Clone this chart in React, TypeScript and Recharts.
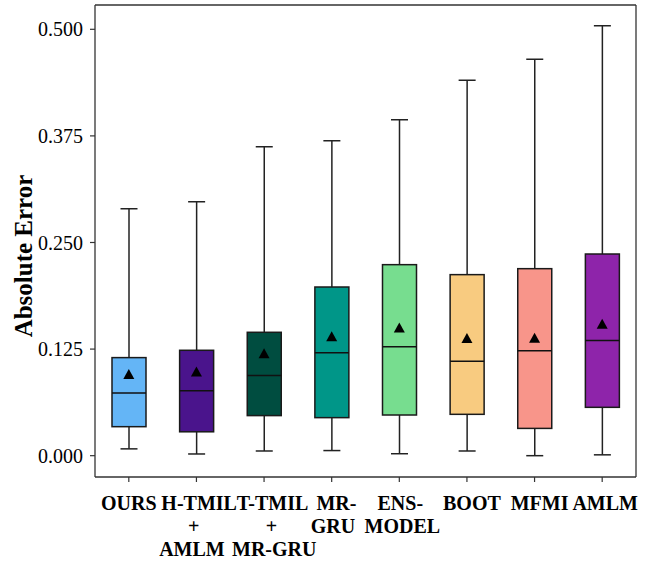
import { ComposedChart, Bar, Scatter, XAxis, YAxis, CartesianGrid } from "recharts"

const categories = ["OURS", "H-TMIL\n+\nAMLM", "T-TMIL\n+\nMR-GRU", "MR-\nGRU", "ENS-\nMODEL", "BOOT", "MFMI", "AMLM"]
const whiskerLow = [0.008, 0.002, 0.0055, 0.006, 0.0023, 0.0055, 0.0, 0.001]
const q1 = [0.034, 0.028, 0.047, 0.0446, 0.0477, 0.0485, 0.032, 0.0567]
const median = [0.0735, 0.076, 0.094, 0.1208, 0.1278, 0.1107, 0.123, 0.135]
const q3 = [0.115, 0.1236, 0.1447, 0.1978, 0.224, 0.2123, 0.2193, 0.2365]
const whiskerHigh = [0.2896, 0.2978, 0.3623, 0.3694, 0.394, 0.4402, 0.4648, 0.5042]
const mean = [0.0945, 0.0975, 0.119, 0.1388, 0.149, 0.1368, 0.137, 0.1536]
const yTicks = [0, 0.125, 0.25, 0.375, 0.5]

const boxColors = ["#64B5F6", "#4A148C", "#004D40", "#009688", "#77DD8F", "#F8CB80", "#F8958A", "#8E24AA"]
// small horizontal nudges per label line, as in the original figure
const labelShift = [[0], [2.7, -2.7, -4.5], [8.5, 7.4, 10.2], [4.7, 1.3], [1, 3], [5], [5], [3]]

const FONT = "Liberation Serif"
const Y_DOMAIN: [number, number] = [-0.025, 0.5285]

const data = categories.map((name, i) => ({
  name,
  min: whiskerLow[i],
  q1: q1[i],
  median: median[i],
  q3: q3[i],
  max: whiskerHigh[i],
  mean: mean[i],
}))

// the bar spans min..max, the rest is placed inside it on the same linear scale
const BoxShape = (props: any) => {
  const { x, y, width, height, payload, index } = props
  if (!payload || height == null) return null
  const span = payload.max - payload.min
  const py = (v: number) => y + (height * (payload.max - v)) / span
  const cx = x + width / 2
  const capHalf = width / 4
  const yq1 = py(payload.q1)
  const yq3 = py(payload.q3)
  const ymed = py(payload.median)
  return (
    <g>
      <line x1={cx} x2={cx} y1={y} y2={yq3} stroke="#222" strokeWidth={1.5} />
      <line x1={cx} x2={cx} y1={yq1} y2={y + height} stroke="#222" strokeWidth={1.5} />
      <line x1={cx - capHalf} x2={cx + capHalf} y1={y} y2={y} stroke="#222" strokeWidth={1.5} />
      <line x1={cx - capHalf} x2={cx + capHalf} y1={y + height} y2={y + height} stroke="#222" strokeWidth={1.5} />
      <rect x={x} y={yq3} width={width} height={yq1 - yq3} fill={boxColors[index]} stroke="#1a1a1a" strokeWidth={1.5} />
      <line x1={x} x2={x + width} y1={ymed} y2={ymed} stroke="#111" strokeWidth={1.5} />
    </g>
  )
}

const MeanMarker = (props: any) => {
  const { cx, cy } = props
  if (cx == null || cy == null) return null
  return <path d={`M${cx},${cy - 6} L${cx + 5.5},${cy + 4} L${cx - 5.5},${cy + 4} Z`} fill="#000" />
}

const CategoryTick = (props: any) => {
  const { x, y, payload } = props
  const lines = String(payload.value).split("\n")
  const shifts = labelShift[categories.indexOf(payload.value)] || []
  return (
    <text x={x} y={y} textAnchor="middle" fontFamily={FONT} fontSize={20} fontWeight="bold" fill="#000">
      {lines.map((line, i) => (
        <tspan key={i} x={x + (shifts[i] || 0)} dy={i === 0 ? 28 : 23}>
          {line}
        </tspan>
      ))}
    </text>
  )
}

const YLabel = (props: any) => {
  const vb = props.viewBox || {}
  const cy = vb.y + vb.height / 2 + 15
  return (
    <text
      x={23}
      y={cy}
      transform={`rotate(-90, 23, ${cy})`}
      textAnchor="middle"
      dominantBaseline="central"
      fontFamily={FONT}
      fontSize={25}
      fontWeight="bold"
      fill="#000"
    >
      Absolute Error
    </text>
  )
}

export default function App() {
  return (
    <div style={{ position: "absolute", left: 0, top: 0, width: 651, height: 563, background: "#fff" }}>
      <ComposedChart width={651} height={563} data={data} margin={{ top: 5, right: 15, left: 10, bottom: 6 }}>
        {/* top and right edges of the frame */}
        <CartesianGrid
          stroke="#333"
          strokeWidth={1.3}
          horizontalCoordinatesGenerator={({ offset }: any) => [offset.top]}
          verticalCoordinatesGenerator={({ offset }: any) => [offset.left + offset.width]}
        />
        <XAxis
          dataKey="name"
          interval={0}
          height={80}
          tick={<CategoryTick />}
          tickSize={5}
          tickMargin={0}
          axisLine={{ stroke: "#333", strokeWidth: 1.3 }}
          tickLine={{ stroke: "#333", strokeWidth: 1.2 }}
        />
        <YAxis
          width={85}
          domain={Y_DOMAIN}
          ticks={yTicks}
          type="number"
          allowDataOverflow
          tickFormatter={(v: number) => v.toFixed(3)}
          tick={{ fontFamily: FONT, fontSize: 20, fill: "#000" }}
          tickSize={5}
          tickMargin={7}
          axisLine={{ stroke: "#333", strokeWidth: 1.3 }}
          tickLine={{ stroke: "#333", strokeWidth: 1.2 }}
          label={<YLabel />}
        />
        <Bar dataKey={(d: any) => [d.min, d.max]} barSize={34} shape={<BoxShape />} isAnimationActive={false} />
        <Scatter dataKey="mean" shape={<MeanMarker />} isAnimationActive={false} />
      </ComposedChart>
    </div>
  )
}
